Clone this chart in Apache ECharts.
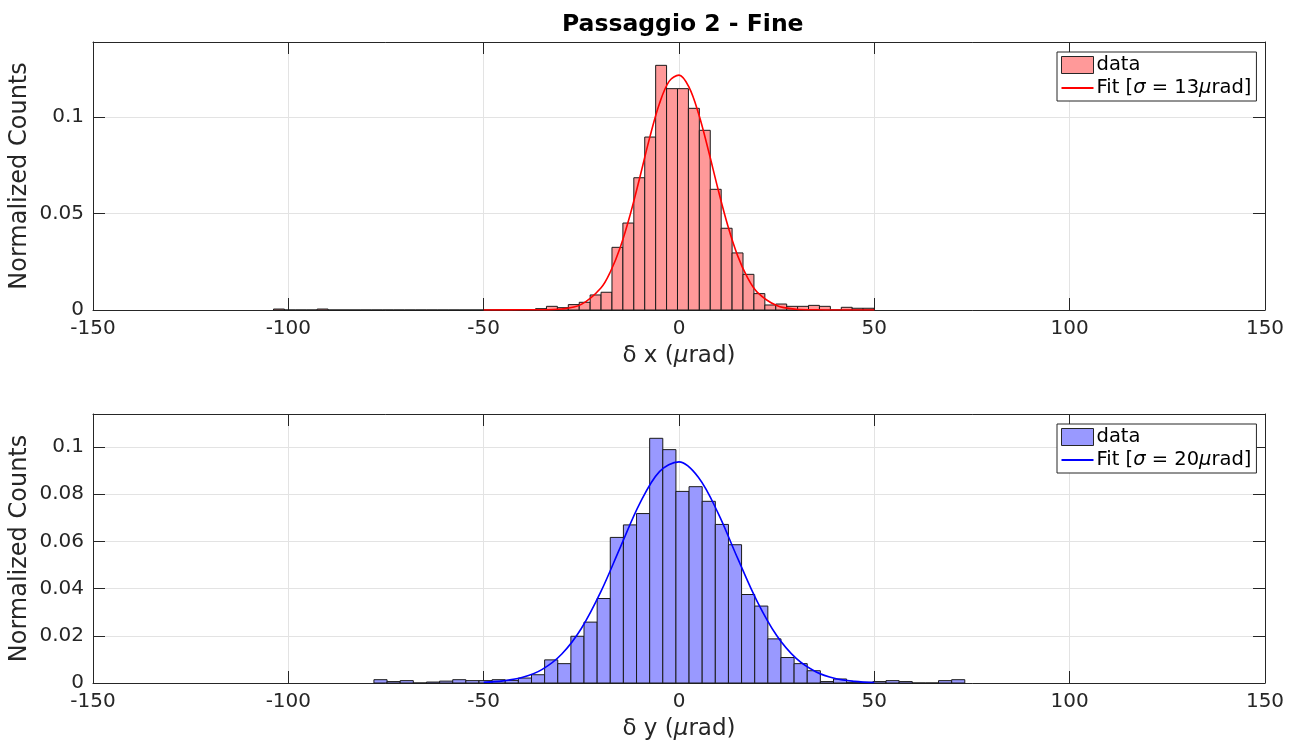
<!DOCTYPE html>
<html><head><meta charset="utf-8">
<script src="https://cdn.jsdelivr.net/npm/echarts@6/dist/echarts.min.js"></script>
<style>html,body{margin:0;padding:0;background:#fff}#c{width:1299px;height:747px}</style>
</head><body><div id="c"></div>
<script>
// ---- data ----
const titleText = 'Passaggio 2 - Fine';
const xTickValues = [-150, -100, -50, 0, 50, 100, 150];
// top histogram (δx): bins of constant width starting at first edge
const xBinFirstEdge = -103.8;
const xBinWidth = 2.795;
const xCounts = [0.0005, 0, 0, 0, 0.0005,
  0, 0, 0, 0, 0, 0, 0, 0, 0, 0, 0, 0, 0, 0, 0, 0, 0, 0, 0,
  0.0007, 0.0019, 0.0012, 0.0028, 0.0040, 0.0078, 0.0092, 0.0325, 0.0451, 0.0686,
  0.0897, 0.1269, 0.1148, 0.1148, 0.1046, 0.0932, 0.0626, 0.0424, 0.0296, 0.0185,
  0.0085, 0.0026, 0.0031, 0.0019, 0.0019, 0.0024, 0.0019, 0, 0.0014, 0.0009, 0.0009];
const xFitX = [-50, -40, -35, -30, -25, -20, -17.5, -15, -12.5, -10, -7.5, -5, -2.5, 0, 2.5, 5, 7.5, 10, 12.5, 15, 17.5, 20, 25, 30, 35, 40, 50];
const xFitY = [0, 0.0001, 0.0001, 0.0005, 0.0029, 0.0114, 0.0201, 0.0327, 0.0494, 0.0690, 0.0894, 0.1071, 0.1187, 0.1218, 0.1158, 0.1019, 0.0830, 0.0626, 0.0437, 0.0282, 0.0169, 0.0093, 0.0023, 0.0004, 0.0001, 0, 0];
// bottom histogram (δy)
const yBinFirstEdge = -78.09;
const yBinWidth = 3.361;
const yCounts = [0.0014, 0.0006, 0.0010, 0, 0.0004, 0.0008, 0.0014, 0.0010, 0.0010, 0.0014,
  0.0011, 0.0021, 0.0035, 0.0098, 0.0082, 0.0198, 0.0258, 0.0358, 0.0617, 0.0670,
  0.0718, 0.1037, 0.0989, 0.0812, 0.0832, 0.0770, 0.0672, 0.0586, 0.0375, 0.0326,
  0.0187, 0.0108, 0.0082, 0.0052, 0.0006, 0.0017, 0.0003, 0.0003, 0.0006, 0.0010,
  0.0006, 0, 0, 0.0010, 0.0014];
const yFitX = [-50, -45, -40, -35, -30, -25, -20, -15, -10, -5, 0, 5, 10, 15, 20, 25, 30, 35, 40, 45, 50];
const yFitY = [0.0003, 0.0009, 0.0024, 0.0058, 0.0123, 0.0231, 0.0387, 0.0576, 0.0762, 0.0896, 0.0937, 0.0871, 0.0720, 0.0529, 0.0346, 0.0201, 0.0104, 0.0048, 0.0019, 0.0007, 0.0002];
const legendLabels = {
  dataX: 'data', fitX: '{n|Fit [}{i|σ}{n| = 13}{i|μ}{n|rad]}',
  dataY: 'data', fitY: '{n|Fit [}{i|σ}{n| = 20}{i|μ}{n|rad]}'
};

// ---- build ----
const FONT = 'DejaVu Sans';
const AX = '#262626';
const TICK_FS = 20;
function bins(first, w, counts) {
  return counts.map((v, i) => [first + i * w, first + (i + 1) * w, v]);
}
function pairs(xs, ys) { return xs.map((x, i) => [x, ys[i]]); }

function histSeries(name, idx, data, fill) {
  return {
    type: 'custom', name: name, xAxisIndex: idx, yAxisIndex: idx,
    itemStyle: { color: fill, borderColor: AX, borderWidth: 1 },
    encode: { x: [0, 1], y: 2 },
    data: data,
    renderItem: function (params, api) {
      const a = api.coord([api.value(0), api.value(2)]);
      const b = api.coord([api.value(1), 0]);
      return {
        type: 'rect',
        shape: { x: a[0], y: a[1], width: b[0] - a[0], height: b[1] - a[1] },
        style: { fill: fill, stroke: '#1a1a1a', lineWidth: 1, opacity: 1 }
      };
    }
  };
}
function fitSeries(name, idx, data, color) {
  return {
    type: 'line', name: name, xAxisIndex: idx, yAxisIndex: idx, data: data,
    smooth: 0.35, symbol: 'none', showSymbol: false,
    lineStyle: { color: color, width: 1.6 }, itemStyle: { color: color }, z: 5
  };
}
function xAxisMain(g, nameRich) {
  return {
    type: 'value', gridIndex: g, min: -150, max: 150, interval: 50,
    axisLine: { show: true, onZero: false, lineStyle: { color: AX, width: 1 } },
    axisTick: { show: true, inside: true, length: 12, lineStyle: { color: AX } },
    axisLabel: { color: AX, fontSize: TICK_FS, fontFamily: FONT, margin: 9 },
    splitLine: { show: true, lineStyle: { color: '#e3e3e3', width: 1 } },
    name: nameRich, nameLocation: 'middle', nameGap: 35,
    nameTextStyle: {
      color: AX, fontSize: 23, fontFamily: FONT,
      rich: { n: { fontSize: 23, fontFamily: FONT, color: AX }, i: { fontSize: 23, fontFamily: FONT, color: AX, fontStyle: 'italic' } }
    }
  };
}
function xAxisTop(g) {
  return {
    type: 'value', gridIndex: g, position: 'top', min: -150, max: 150, interval: 50,
    axisLine: { show: true, onZero: false, lineStyle: { color: AX } },
    axisTick: { show: true, inside: true, length: 12, lineStyle: { color: AX } },
    axisLabel: { show: false }, splitLine: { show: false }
  };
}
function yAxisMain(g, max, interval) {
  return {
    type: 'value', gridIndex: g, min: 0, max: max, interval: interval,
    axisLine: { show: true, onZero: false, lineStyle: { color: AX } },
    axisTick: { show: true, inside: true, length: 12, lineStyle: { color: AX } },
    axisLabel: { color: AX, fontSize: TICK_FS, fontFamily: FONT, margin: 9, showMaxLabel: false,
      formatter: v => String(+v.toFixed(4)) },
    splitLine: { show: true, lineStyle: { color: '#e3e3e3', width: 1 } },
    name: 'Normalized Counts', nameLocation: 'middle', nameRotate: 90, nameGap: 61,
    nameMoveOverlap: false,
    nameTextStyle: { color: AX, fontSize: 24, fontFamily: FONT }
  };
}
function yAxisRight(g, max, interval) {
  return {
    type: 'value', gridIndex: g, position: 'right', min: 0, max: max, interval: interval,
    axisLine: { show: true, onZero: false, lineStyle: { color: AX } },
    axisTick: { show: true, inside: true, length: 12, lineStyle: { color: AX } },
    axisLabel: { show: false }, splitLine: { show: false }
  };
}
function legendFor(top, names, fill, lineColor) {
  return {
    left: 1057, top: top, orient: 'vertical', selectedMode: false,
    data: [
      { name: names[0], icon: 'rect', itemStyle: { color: fill, borderColor: AX, borderWidth: 1 } },
      { name: names[1], icon: 'path://M0,0 L32,0 L32,2 L0,2 Z', itemStyle: { color: lineColor, borderWidth: 0 } }
    ],
    symbolKeepAspect: true,
    formatter: n => legendLabels[n],
    borderColor: AX, borderWidth: 1, backgroundColor: '#fff', borderRadius: 0,
    padding: [3, 5, 3, 4], itemGap: 3, itemWidth: 32, itemHeight: 17,
    textStyle: {
      color: '#000', fontSize: 19.5, fontFamily: FONT, padding: [0, 0, 0, -2],
      rich: { n: { fontSize: 19.5, fontFamily: FONT, color: '#000' }, i: { fontSize: 19.5, fontFamily: FONT, color: '#000', fontStyle: 'italic' } }
    }
  };
}

const chart = echarts.init(document.getElementById('c'), null, { renderer: 'canvas' });
chart.setOption({
  backgroundColor: '#fff',
  animation: false,
  title: { text: titleText, left: 557, top: 8,
    textStyle: { fontSize: 23.5, fontWeight: 'bold', fontFamily: FONT, color: '#000' } },
  grid: [
    { left: 93, top: 42, width: 1172, height: 268, containLabel: false, outerBoundsMode: 'none' },
    { left: 93, top: 414, width: 1172, height: 269, containLabel: false, outerBoundsMode: 'none' }
  ],
  xAxis: [
    xAxisMain(0, '{n|δ x (}{i|μ}{n|rad)}'),
    xAxisMain(1, '{n|δ y (}{i|μ}{n|rad)}'),
    xAxisTop(0), xAxisTop(1)
  ],
  yAxis: [
    yAxisMain(0, 0.139, 0.05),
    yAxisMain(1, 0.114, 0.02),
    yAxisRight(0, 0.139, 0.05),
    yAxisRight(1, 0.114, 0.02)
  ],
  legend: [
    legendFor(52, ['dataX', 'fitX'], '#ff9999', '#ff0000'),
    legendFor(424, ['dataY', 'fitY'], '#9999ff', '#0000ff')
  ],
  series: [
    histSeries('dataX', 0, bins(xBinFirstEdge, xBinWidth, xCounts), '#ff9999'),
    fitSeries('fitX', 0, pairs(xFitX, xFitY), '#ff0000'),
    histSeries('dataY', 1, bins(yBinFirstEdge, yBinWidth, yCounts), '#9999ff'),
    fitSeries('fitY', 1, pairs(yFitX, yFitY), '#0000ff')
  ]
});
</script></body></html>
